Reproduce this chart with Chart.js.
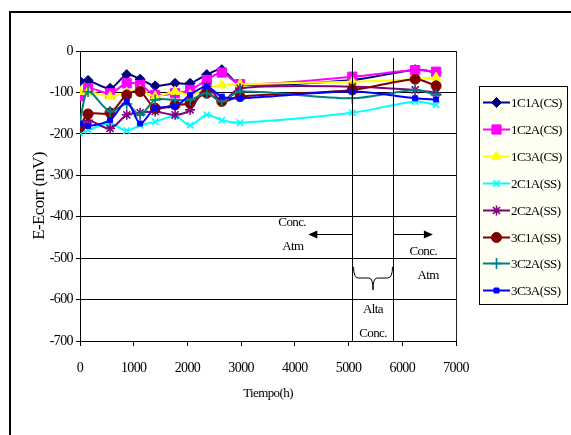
<!DOCTYPE html>
<html>
<head>
<meta charset="utf-8">
<script src="https://cdn.jsdelivr.net/npm/chart.js@4.4.0/dist/chart.umd.min.js"></script>
<style>
  body { margin: 0; background: #fff; }
  canvas { display: block; }
</style>
</head>
<body>
<canvas id="chart" width="571" height="435"></canvas>
<script>
// tiempo (h) de cada medida
var hours = [0, 150, 560, 870, 1120, 1400, 1770, 2050, 2360, 2640, 2980, 5070, 6240, 6630];

// E-Ecorr (mV) por probeta
var s1C1A = [-73, -71, -90, -57, -68, -84, -78, -78, -57, -45, -80, -70, -45, -52];
var s1C2A = [-109, -90, -102, -78, -82, -106, -102, -94, -70, -52, -80, -62, -46, -50];
var s1C3A = [-98, -98, -110, -100, -95, -110, -98, -106, -90, -82, -80, -74, -68, -64];
var s2C1A = [-198, -191, -175, -192, -179, -171, -157, -179, -154, -167, -173, -149, -122, -130];
var s2C2A = [-183, -167, -187, -154, -149, -146, -154, -142, -85, -122, -90, -86, -94, -101];
var s3C1A = [-184, -152, -149, -106, -98, -138, -130, -126, -102, -122, -110, -94, -68, -84];
var s3C2A = [-171, -98, -146, -128, -154, -118, -118, -118, -102, -122, -98, -114, -94, -106];
var s3C3A = [-175, -181, -167, -122, -175, -138, -134, -106, -86, -110, -114, -98, -114, -117];

var seriesNames = ["1C1A(CS)", "1C2A(CS)", "1C3A(CS)", "2C1A(SS)", "2C2A(SS)", "3C1A(SS)", "3C2A(SS)", "3C3A(SS)"];
var seriesData = [s1C1A, s1C2A, s1C3A, s2C1A, s2C2A, s3C1A, s3C2A, s3C3A];
var seriesColors = ["#000080", "#ff00ff", "#ffff00", "#00ffff", "#800080", "#800000", "#008080", "#0000ff"];
var seriesPoints = ["rectRot", "rect", "triangle", "crossRot", "star", "circle", "cross", "rect"];
var seriesRadius = [5, 6.5, 5.5, 4.5, 5, 5, 5.5, 3.5];

var xTicks = [0, 1000, 2000, 3000, 4000, 5000, 6000, 7000];
var yTicks = [0, -100, -200, -300, -400, -500, -600, -700];

// limites del periodo de alta concentracion (h)
var altaStart = 5070;
var altaEnd = 5830;

var FONT = "'Liberation Serif', 'Times New Roman', serif";

var datasets = [];
for (var i = 0; i < seriesNames.length; i++) {
  var pts = [];
  for (var j = 0; j < hours.length; j++) {
    pts.push({x: hours[j], y: seriesData[i][j]});
  }
  var cross = seriesPoints[i] == "crossRot" || seriesPoints[i] == "star" || seriesPoints[i] == "cross";
  datasets.push({
    label: seriesNames[i],
    data: pts,
    borderColor: seriesColors[i],
    backgroundColor: seriesColors[i],
    borderWidth: 2,
    pointStyle: seriesPoints[i],
    pointRadius: seriesRadius[i],
    pointBorderWidth: cross ? 1.6 : 1,
    pointBackgroundColor: seriesColors[i],
    pointBorderColor: seriesColors[i],
    tension: 0.3,
    order: -i
  });
}

function arrowHead(ctx, x, y, dir) {
  ctx.beginPath();
  ctx.moveTo(x, y);
  ctx.lineTo(x - dir * 9, y - 4);
  ctx.lineTo(x - dir * 9, y + 4);
  ctx.closePath();
  ctx.fill();
}

var framePlugin = {
  id: 'frame',
  beforeDraw: function(chart) {
    chart.ctx.letterSpacing = '-0.6px';
  },
  afterDraw: function(chart) {
    var ctx = chart.ctx;
    var a = chart.chartArea;
    ctx.save();
    // marco exterior
    ctx.strokeStyle = '#000';
    ctx.lineWidth = 2;
    ctx.strokeRect(10, 12, 600, 500);
    // borde derecho del area
    ctx.lineWidth = 1;
    ctx.strokeStyle = '#222';
    ctx.beginPath();
    ctx.moveTo(Math.round(a.right) + 0.5, a.top);
    ctx.lineTo(Math.round(a.right) + 0.5, a.bottom);
    ctx.stroke();
    ctx.restore();
  }
};

var notesPlugin = {
  id: 'notes',
  afterDatasetsDraw: function(chart) {
    var ctx = chart.ctx;
    var xs = chart.scales.x, ys = chart.scales.y;
    var x1 = Math.round(xs.getPixelForValue(altaStart)) + 0.5;
    var x2 = Math.round(xs.getPixelForValue(altaEnd)) + 0.5;
    ctx.save();
    ctx.strokeStyle = '#000';
    ctx.fillStyle = '#000';
    ctx.lineWidth = 1;
    ctx.beginPath();
    ctx.moveTo(x1, ys.getPixelForValue(-17));
    ctx.lineTo(x1, ys.getPixelForValue(-700));
    ctx.moveTo(x2, ys.getPixelForValue(-17));
    ctx.lineTo(x2, ys.getPixelForValue(-700));
    ctx.stroke();

    // flechas
    var ya = Math.round(ys.getPixelForValue(-442)) + 0.5;
    var xl = xs.getPixelForValue(4250);
    var xr = xs.getPixelForValue(6570);
    ctx.lineWidth = 1.2;
    ctx.beginPath();
    ctx.moveTo(x1, ya); ctx.lineTo(xl + 6, ya);
    ctx.moveTo(x2, ya); ctx.lineTo(xr - 6, ya);
    ctx.stroke();
    arrowHead(ctx, xl, ya, -1);
    arrowHead(ctx, xr, ya, 1);

    // llave
    var bt = ys.getPixelForValue(-521);
    var bm = ys.getPixelForValue(-548);
    var bb = ys.getPixelForValue(-577);
    var xc = (x1 + x2) / 2;
    ctx.lineWidth = 1;
    ctx.beginPath();
    ctx.moveTo(x1 + 1, bt);
    ctx.quadraticCurveTo(x1 + 1, bm, x1 + 6, bm);
    ctx.lineTo(xc - 4, bm);
    ctx.quadraticCurveTo(xc, bm, xc, bb);
    ctx.quadraticCurveTo(xc, bm, xc + 4, bm);
    ctx.lineTo(x2 - 6, bm);
    ctx.quadraticCurveTo(x2 - 1, bm, x2 - 1, bt);
    ctx.stroke();

    ctx.font = "13px " + FONT;
    ctx.textAlign = 'center';
    ctx.textBaseline = 'middle';
    ctx.fillText("Conc.", xs.getPixelForValue(3950), ys.getPixelForValue(-415));
    ctx.fillText("Atm", xs.getPixelForValue(3965), ys.getPixelForValue(-473));
    ctx.fillText("Conc.", xs.getPixelForValue(6390), ys.getPixelForValue(-485));
    ctx.fillText("Atm", xs.getPixelForValue(6480), ys.getPixelForValue(-543));
    ctx.fillText("Alta", xc, ys.getPixelForValue(-625));
    ctx.fillText("Conc.", xc, ys.getPixelForValue(-681));
    ctx.restore();
  }
};

var legendPlugin = {
  id: 'sideLegend',
  afterDraw: function(chart) {
    var ctx = chart.ctx;
    ctx.save();
    ctx.fillStyle = '#fffff4';
    ctx.fillRect(479.5, 86.5, 88, 218);
    ctx.strokeStyle = '#000';
    ctx.lineWidth = 1;
    ctx.strokeRect(479.5, 86.5, 88, 218);
    ctx.font = "13px " + FONT;
    ctx.textBaseline = 'middle';
    ctx.textAlign = 'left';
    chart.data.datasets.forEach(function(ds, i) {
      var y = Math.round(102 + i * 26.9) + 0.5;
      ctx.strokeStyle = ds.borderColor;
      ctx.fillStyle = ds.borderColor;
      ctx.lineWidth = 2;
      ctx.beginPath();
      ctx.moveTo(483, y);
      ctx.lineTo(510, y);
      ctx.stroke();
      ctx.lineWidth = ds.pointBorderWidth;
      Chart.helpers.drawPoint(ctx, {
        pointStyle: ds.pointStyle,
        radius: ds.pointRadius,
        borderWidth: ds.pointBorderWidth,
        rotation: 0
      }, 496.5, y);
      ctx.fillStyle = '#000';
      ctx.fillText(ds.label, 511, y + 1);
    });
    ctx.restore();
  }
};

var ctx = document.getElementById("chart").getContext('2d');
var myChart = new Chart(ctx, {
  type: 'line',
  data: { datasets: datasets },
  options: {
    responsive: false,
    animation: false,
    layout: { padding: { top: 51, right: 115, bottom: 0, left: 0 } },
    plugins: { legend: { display: false }, tooltip: { enabled: false } },
    scales: {
      x: {
        type: 'linear',
        min: 0, max: 7000,
        afterBuildTicks: function(scale) {
          scale.ticks = xTicks.map(function(v) { return {value: v}; });
        },
        afterFit: function(scale) { scale.height = 94; },
        grid: { drawOnChartArea: false, drawTicks: true, tickLength: 5, color: '#000' },
        border: { color: '#000', width: 1 },
        ticks: {
          color: '#000', padding: 14, maxRotation: 0, font: { family: FONT, size: 14 },
          callback: function(v) { return String(v); }
        },
        title: { display: true, text: 'Tiempo(h)', color: '#000', font: { family: FONT, size: 13 }, padding: { top: 0, bottom: 34 } }
      },
      y: {
        min: -700, max: 0,
        afterBuildTicks: function(scale) {
          scale.ticks = yTicks.map(function(v) { return {value: v}; });
        },
        afterFit: function(scale) { scale.width = 80; },
        grid: { color: '#000', lineWidth: 1, tickLength: 4 },
        border: { color: '#000', width: 1 },
        ticks: {
          color: '#000', padding: 3, font: { family: FONT, size: 14 },
          callback: function(v) { return String(v); }
        },
        title: { display: true, text: 'E-Ecorr (mV)', color: '#000', font: { family: FONT, size: 17 }, padding: { top: 29, bottom: 0 } }
      }
    }
  },
  plugins: [framePlugin, notesPlugin, legendPlugin]
});
</script>
</body>
</html>
